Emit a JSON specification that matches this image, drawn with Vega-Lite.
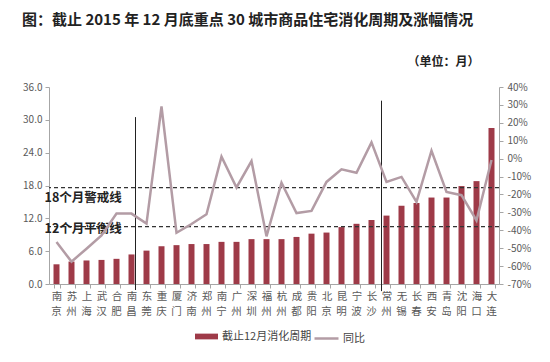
{
  "$schema": "https://vega.github.io/schema/vega-lite/v6.json",
  "width": 450,
  "height": 197,
  "autosize": {"type": "none"},
  "padding": {"left": 49, "top": 87, "right": 51, "bottom": 78},
  "background": "white",
  "config": {
    "font": "Noto Sans CJK SC",
    "view": {"stroke": null},
    "axis": {"grid": false, "domainColor": "#a6a6a6", "tickColor": "#a6a6a6", "labelColor": "#595959", "labelFont": "Noto Sans CJK SC"},
    "axisY": {"labelOverlap": false}
  },
  "title": {
    "text": "图：截止 2015 年 12 月底重点 30 城市商品住宅消化周期及涨幅情况",
    "anchor": "start",
    "frame": "group",
    "fontSize": 15,
    "fontWeight": "bold",
    "color": "#222222",
    "dx": -27,
    "offset": 28
  },
  "datasets": {
    "cities": [
      {"城市": "南京", "消化周期": 3.6, "同比": -46.6},
      {"城市": "苏州", "消化周期": 4.1, "同比": -57.5},
      {"城市": "上海", "消化周期": 4.3, "同比": -50.3},
      {"城市": "武汉", "消化周期": 4.4, "同比": -42.9},
      {"城市": "合肥", "消化周期": 4.6, "同比": -30.7},
      {"城市": "南昌", "消化周期": 5.4, "同比": -30.7},
      {"城市": "东莞", "消化周期": 6.1, "同比": -36.3},
      {"城市": "重庆", "消化周期": 6.9, "同比": 29.1},
      {"城市": "厦门", "消化周期": 7.1, "同比": -41.4},
      {"城市": "济南", "消化周期": 7.3, "同比": -36.5},
      {"城市": "郑州", "消化周期": 7.3, "同比": -31.1},
      {"城市": "南宁", "消化周期": 7.7, "同比": 1.1},
      {"城市": "广州", "消化周期": 7.7, "同比": -16.1},
      {"城市": "深圳", "消化周期": 8.2, "同比": -1.4},
      {"城市": "福州", "消化周期": 8.2, "同比": -43.4},
      {"城市": "杭州", "消化周期": 8.2, "同比": -13.5},
      {"城市": "成都", "消化周期": 8.6, "同比": -30.4},
      {"城市": "贵阳", "消化周期": 9.2, "同比": -29.2},
      {"城市": "北京", "消化周期": 9.4, "同比": -13.0},
      {"城市": "昆明", "消化周期": 10.4, "同比": -6.0},
      {"城市": "宁波", "消化周期": 11.0, "同比": -7.9},
      {"城市": "长沙", "消化周期": 11.7, "同比": 9.1},
      {"城市": "常州", "消化周期": 12.5, "同比": -13.0},
      {"城市": "无锡", "消化周期": 14.3, "同比": -10.2},
      {"城市": "长春", "消化周期": 14.8, "同比": -24.2},
      {"城市": "西安", "消化周期": 15.8, "同比": 4.4},
      {"城市": "青岛", "消化周期": 15.8, "同比": -18.6},
      {"城市": "沈阳", "消化周期": 17.9, "同比": -20.4},
      {"城市": "海口", "消化周期": 18.8, "同比": -34.5},
      {"城市": "大连", "消化周期": 28.5, "同比": -0.8}
    ],
    "refs": [
      {"label": "18个月警戒线", "line": 17.6, "labelY": 15.8},
      {"label": "12个月平衡线", "line": 10.5, "labelY": 10.0}
    ]
  },
  "resolve": {"scale": {"y": "independent"}, "axis": {"y": "independent", "x": "independent"}},
  "layer": [
    {
      "layer": [
        {
          "data": {"name": "cities"},
          "mark": {"type": "bar", "color": "#9e3a48"},
          "encoding": {
            "x": {
              "field": "城市", "type": "nominal", "sort": null, "title": null,
              "scale": {"domain": ["南京","苏州","上海","武汉","合肥","南昌","东莞","重庆","厦门","济南","郑州","南宁","广州","深圳","福州","杭州","成都","贵阳","北京","昆明","宁波","长沙","常州","无锡","长春","西安","青岛","沈阳","海口","大连"], "paddingInner": 0.6, "paddingOuter": 0.3},
              "axis": {"orient": "bottom", "labelAngle": 0, "labelExpr": "substring(datum.label, 0, 1)", "tickBand": "extent", "tickSize": 4, "labelFontSize": 10.5, "labelPadding": 3, "labelBaseline": "top"}
            },
            "y": {
              "field": "消化周期", "type": "quantitative", "title": null,
              "scale": {"domain": [0, 36], "nice": false},
              "axis": {"values": [0, 6, 12, 18, 24, 30, 36], "format": ".1f", "tickSize": 4, "labelFontSize": 10, "labelPadding": 3, "labelOverlap": false}
            },
            "fill": {
              "datum": "截止12月消化周期", "type": "nominal",
              "scale": {"range": ["#9e3a48"]},
              "legend": {"orient": "none", "legendX": 146, "legendY": 238, "title": null, "padding": 0, "symbolType": "M-1,-0.25H1V0.25H-1Z", "symbolSize": 529, "symbolStrokeWidth": 0, "labelFontSize": 11, "labelColor": "#444444", "labelOffset": 4}
            }
          }
        },
        {
          "data": {"name": "refs"},
          "mark": {"type": "rule", "color": "#333333", "strokeWidth": 1.2, "strokeDash": [4, 3]},
          "encoding": {
            "y": {"field": "line", "type": "quantitative", "title": null, "axis": {"values": [0, 6, 12, 18, 24, 30, 36], "format": ".1f", "tickSize": 4, "labelFontSize": 10, "labelPadding": 3, "labelOverlap": false}}
          }
        },
        {
          "data": {"name": "refs"},
          "mark": {"type": "text", "align": "left", "baseline": "middle", "dx": -12, "fontSize": 12.5, "fontWeight": "bold", "color": "#222222"},
          "encoding": {
            "x": {"datum": "南京", "type": "nominal", "title": null, "axis": {"orient": "bottom", "labelAngle": 0, "labelExpr": "substring(datum.label, 0, 1)", "tickBand": "extent", "tickSize": 4, "labelFontSize": 10.5, "labelPadding": 3, "labelBaseline": "top"}},
            "y": {"field": "labelY", "type": "quantitative", "title": null, "axis": {"values": [0, 6, 12, 18, 24, 30, 36], "format": ".1f", "tickSize": 4, "labelFontSize": 10, "labelPadding": 3, "labelOverlap": false}},
            "text": {"field": "label"}
          }
        },
        {
          "data": {"values": [{"城市": "南昌", "top": 30.5, "bottom": -1.1}]},
          "mark": {"type": "rule", "color": "#222222", "strokeWidth": 1, "xOffset": 4},
          "encoding": {
            "x": {"field": "城市", "type": "nominal", "title": null, "axis": {"orient": "bottom", "labelAngle": 0, "labelExpr": "substring(datum.label, 0, 1)", "tickBand": "extent", "tickSize": 4, "labelFontSize": 10.5, "labelPadding": 3, "labelBaseline": "top"}},
            "y": {"field": "top", "type": "quantitative", "title": null, "axis": {"values": [0, 6, 12, 18, 24, 30, 36], "format": ".1f", "tickSize": 4, "labelFontSize": 10, "labelPadding": 3, "labelOverlap": false}},
            "y2": {"field": "bottom"}
          }
        },
        {
          "data": {"values": [{"城市": "常州", "top": 33.5, "bottom": -1.3}]},
          "mark": {"type": "rule", "color": "#222222", "strokeWidth": 1, "xOffset": -5},
          "encoding": {
            "x": {"field": "城市", "type": "nominal", "title": null, "axis": {"orient": "bottom", "labelAngle": 0, "labelExpr": "substring(datum.label, 0, 1)", "tickBand": "extent", "tickSize": 4, "labelFontSize": 10.5, "labelPadding": 3, "labelBaseline": "top"}},
            "y": {"field": "top", "type": "quantitative", "title": null, "axis": {"values": [0, 6, 12, 18, 24, 30, 36], "format": ".1f", "tickSize": 4, "labelFontSize": 10, "labelPadding": 3, "labelOverlap": false}},
            "y2": {"field": "bottom"}
          }
        },
        {
          "data": {"values": [{"城市": "海口", "y": 40.5, "text": "（单位：月）"}]},
          "mark": {"type": "text", "align": "right", "baseline": "middle", "dx": 3, "fontSize": 12, "fontWeight": "bold", "color": "#222222"},
          "encoding": {
            "x": {"field": "城市", "type": "nominal", "title": null, "axis": {"orient": "bottom", "labelAngle": 0, "labelExpr": "substring(datum.label, 0, 1)", "tickBand": "extent", "tickSize": 4, "labelFontSize": 10.5, "labelPadding": 3, "labelBaseline": "top"}},
            "y": {"field": "y", "type": "quantitative", "title": null, "axis": {"values": [0, 6, 12, 18, 24, 30, 36], "format": ".1f", "tickSize": 4, "labelFontSize": 10, "labelPadding": 3, "labelOverlap": false}},
            "text": {"field": "text"}
          }
        }
      ]
    },
    {
      "data": {"name": "cities"},
      "mark": {"type": "line", "strokeWidth": 2.5},
      "encoding": {
        "x": {
          "field": "城市", "type": "nominal", "sort": null, "title": null,
          "axis": {"orient": "bottom", "labelAngle": 0, "labelExpr": "substring(datum.label, 1, 2)", "domain": false, "ticks": false, "labelFontSize": 10.5, "labelPadding": 22, "labelBaseline": "top"}
        },
        "y": {
          "field": "同比", "type": "quantitative", "title": null,
          "scale": {"domain": [-70, 40], "nice": false},
          "axis": {"orient": "right", "values": [-70, -60, -50, -40, -30, -20, -10, 0, 10, 20, 30, 40], "labelExpr": "datum.value + '%'", "tickSize": 4, "labelFontSize": 10, "labelPadding": 4, "labelOverlap": false}
        },
        "stroke": {
          "datum": "同比", "type": "nominal",
          "scale": {"range": ["#b39ca5"]},
          "legend": {"orient": "none", "legendX": 264, "legendY": 238, "title": null, "padding": 0, "symbolType": "stroke", "symbolSize": 576, "symbolStrokeWidth": 2.5, "labelFontSize": 11, "labelColor": "#444444", "labelOffset": 3}
        }
      }
    }
  ]
}
